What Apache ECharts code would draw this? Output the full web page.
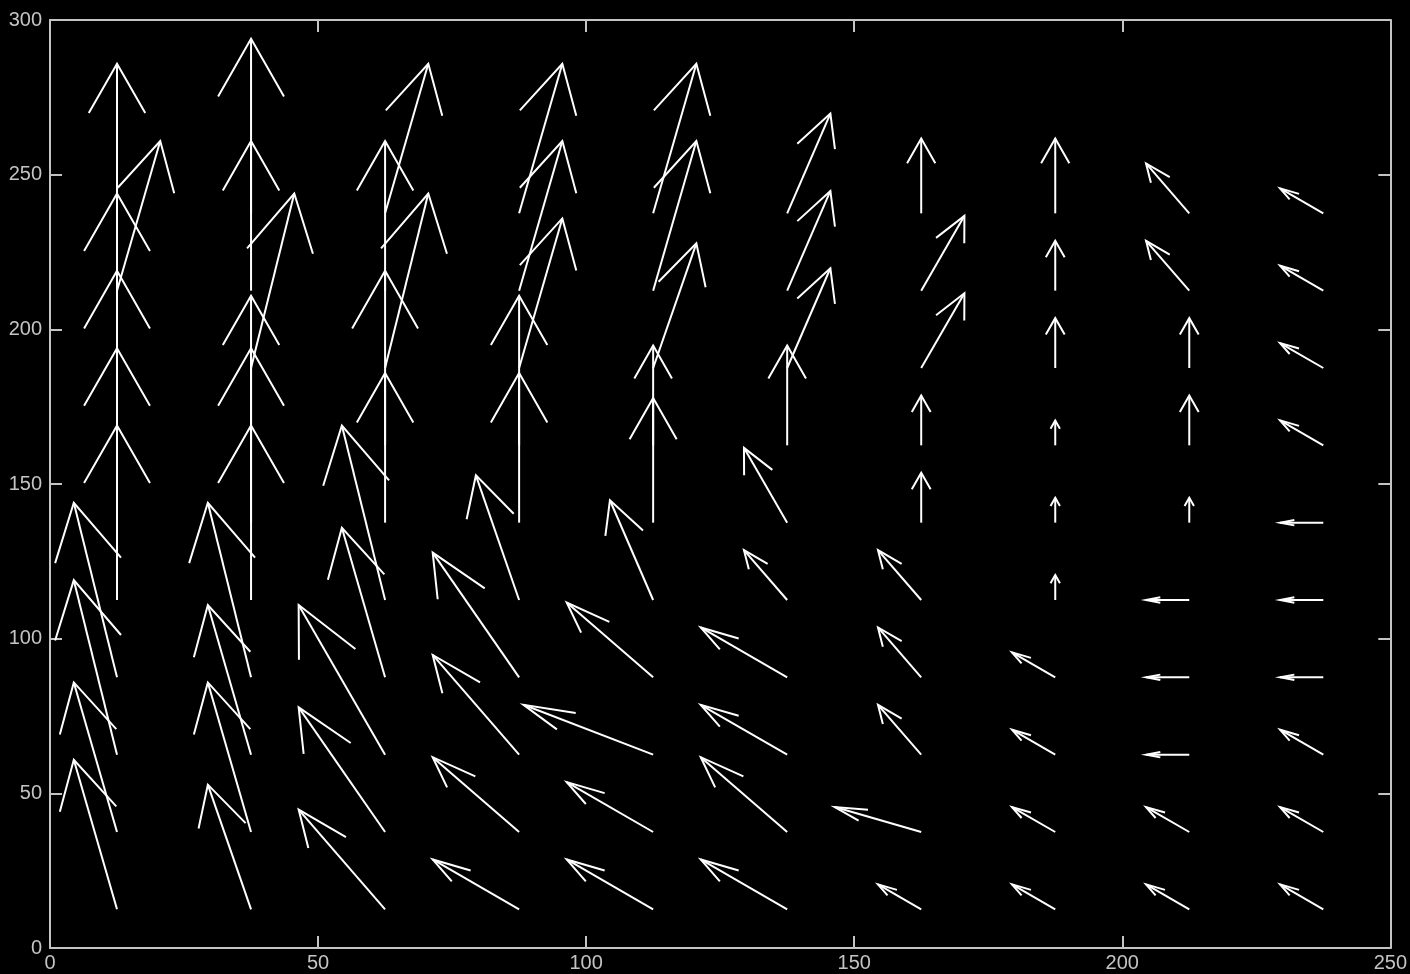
<!DOCTYPE html>
<html>
<head>
<meta charset="utf-8">
<script src="https://cdn.jsdelivr.net/npm/echarts@6/dist/echarts.min.js"></script>
<style>
html,body{margin:0;padding:0;background:#000;}
#chart{width:1410px;height:974px;}
</style>
</head>
<body>
<div id="chart"></div>
<script>
// Grid of arrow origins (data units)
const X = [12.5, 37.5, 62.5, 87.5, 112.5, 137.5, 162.5, 187.5, 212.5, 237.5];
const Y = [12.5, 37.5, 62.5, 87.5, 112.5, 137.5, 162.5, 187.5, 212.5, 237.5];

// Displacement components, one row per Y value (bottom to top), one entry per X value
const U_ROW_12 = [-1, -1, -2, -2, -2, -2, -1, -1, -1, -1];
const U_ROW_37 = [-1, -1, -2, -2, -2, -2, -2, -1, -1, -1];
const U_ROW_62 = [-1, -1, -2, -2, -3, -2, -1, -1, -1, -1];
const U_ROW_87 = [-1, -1, -1, -2, -2, -2, -1, -1, -1, -1];
const U_ROW_112 = [0, 0, -1, -1, -1, -1, -1, 0, -1, -1];
const U_ROW_137 = [0, 0, 0, 0, 0, -1, 0, 0, 0, -1];
const U_ROW_162 = [0, 0, 0, 0, 0, 0, 0, 0, 0, -1];
const U_ROW_187 = [0, 1, 1, 1, 1, 1, 1, 0, 0, -1];
const U_ROW_212 = [1, 0, 0, 1, 1, 1, 1, 0, -1, -1];
const U_ROW_237 = [0, 0, 1, 1, 1, 1, 0, 0, -1, -1];

const V_ROW_12 = [6, 5, 4, 2, 2, 2, 1, 1, 1, 1];
const V_ROW_37 = [6, 6, 5, 3, 2, 3, 1, 1, 1, 1];
const V_ROW_62 = [7, 6, 6, 4, 2, 2, 2, 1, 0, 1];
const V_ROW_87 = [7, 7, 6, 5, 3, 2, 2, 1, 0, 0];
const V_ROW_112 = [7, 7, 7, 5, 4, 2, 2, 1, 0, 0];
const V_ROW_137 = [7, 7, 6, 6, 5, 3, 2, 1, 1, 0];
const V_ROW_162 = [7, 6, 7, 6, 4, 4, 2, 1, 2, 1];
const V_ROW_187 = [7, 7, 7, 6, 5, 4, 3, 2, 2, 1];
const V_ROW_212 = [6, 6, 6, 6, 6, 4, 3, 2, 2, 1];
const V_ROW_237 = [6, 7, 6, 6, 6, 4, 3, 3, 2, 1];

const U = [U_ROW_12, U_ROW_37, U_ROW_62, U_ROW_87, U_ROW_112, U_ROW_137, U_ROW_162, U_ROW_187, U_ROW_212, U_ROW_237];
const V = [V_ROW_12, V_ROW_37, V_ROW_62, V_ROW_87, V_ROW_112, V_ROW_137, V_ROW_162, V_ROW_187, V_ROW_212, V_ROW_237];

// quiver autoscale factor (arrow length per unit of displacement)
const QUIVER_SCALE = 8.06;

// axis ticks
const X_TICKS = [0, 50, 100, 150, 200, 250];
const Y_TICKS = [0, 50, 100, 150, 200, 250, 300];

const data = [];
for (let r = 0; r < Y.length; r++) {
  for (let c = 0; c < X.length; c++) {
    data.push([X[c], Y[r], U[r][c], V[r][c]]);
  }
}

const ALPHA = 0.33, BETA = 0.33;
const AX = '#c4c4c4';

function renderArrow(params, api) {
  const x = api.value(0), y = api.value(1);
  const u = api.value(2) * QUIVER_SCALE, v = api.value(3) * QUIVER_SCALE;
  if (u === 0 && v === 0) return null;
  const tx = x + u, ty = y + v;
  const h1 = [tx - ALPHA * (u + BETA * v), ty - ALPHA * (v - BETA * u)];
  const h2 = [tx - ALPHA * (u - BETA * v), ty - ALPHA * (v + BETA * u)];
  const p0 = api.coord([x, y]);
  const pt = api.coord([tx, ty]);
  const p1 = api.coord(h1);
  const p2 = api.coord(h2);
  const style = {stroke: '#ffffff', lineWidth: 2, fill: null};
  return {
    type: 'group',
    children: [
      {type: 'polyline', shape: {points: [p0, pt]}, style: style},
      {type: 'polyline', shape: {points: [p1, pt, p2]}, style: style}
    ]
  };
}

function axis(kind, position, ticks, showLabels, margin) {
  return {
    type: 'value', min: ticks[0], max: ticks[ticks.length - 1], interval: 50,
    position: position,
    axisLine: {show: true, onZero: false, lineStyle: {color: AX, width: 2}},
    axisTick: {show: true, inside: true, length: 12, lineStyle: {color: AX, width: 2}},
    axisLabel: showLabels ? {
      show: true, margin: margin, color: AX, fontFamily: 'Liberation Sans', fontSize: 20,
      formatter: v => ticks.includes(v) ? String(v) : ''
    } : {show: false},
    splitLine: {show: false}
  };
}

const chart = echarts.init(document.getElementById('chart'));
chart.setOption({
  backgroundColor: '#000000',
  animation: false,
  grid: {left: 50, right: 18, top: 20, bottom: 26, containLabel: false},
  xAxis: [
    axis('x', 'bottom', X_TICKS, true, 5),
    axis('x', 'top', X_TICKS, false, 0)
  ],
  yAxis: [
    axis('y', 'left', Y_TICKS, true, 8),
    axis('y', 'right', Y_TICKS, false, 0)
  ],
  series: [{
    type: 'custom',
    xAxisIndex: 0,
    yAxisIndex: 0,
    renderItem: renderArrow,
    data: data,
    encode: {x: 0, y: 1},
    clip: false,
    silent: true
  }]
});
</script>
</body>
</html>
